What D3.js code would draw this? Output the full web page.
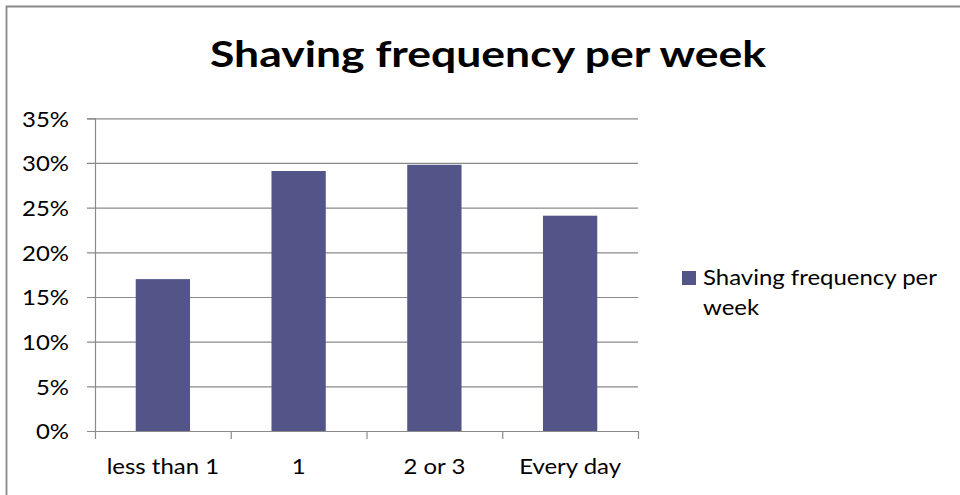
<!DOCTYPE html>
<html>
<head>
<meta charset="utf-8">
<script src="https://cdn.jsdelivr.net/npm/d3@7"></script>
<style>
  html, body { margin: 0; padding: 0; background: #fff; }
  svg { display: block; font-family: Lato, "Open Sans", sans-serif; }
</style>
</head>
<body>
<svg id="chart" width="960" height="495"></svg>
<script>
// Share of respondents by how often they shave each week
const categories = ["less than 1", "1", "2 or 3", "Every day"];
const values = [0.17, 0.291, 0.298, 0.241];
const yTicks = [0, 0.05, 0.10, 0.15, 0.20, 0.25, 0.30, 0.35];
const seriesName = "Shaving frequency per week";
const titleText = "Shaving frequency per week";

const svg = d3.select("#chart");
const plot = { left: 95, right: 638, top: 118.3, bottom: 431 };
const gridColor = "#8a8a8a";
const barColor = "#535588";
const labelSize = 21;
const textStretch = 1.14;  // labels are set a little wider than the font's natural width
const titleWidth = 556;    // title spans this many pixels

// outer frame: only its top and left edges fall inside the page
svg.append("path")
  .attr("d", "M6.5,1000V6.5H1000")
  .attr("fill", "none")
  .attr("stroke", gridColor).attr("stroke-width", 1.8);

const y = d3.scaleLinear().domain([0, 0.35]).range([plot.bottom, plot.top]);
const x = d3.scaleBand().domain(categories)
  .range([plot.left, plot.right])
  .paddingInner(0.6).paddingOuter(0.3);
const xEdges = d3.scaleLinear().domain([0, categories.length]).range([plot.left, plot.right]);

// title
svg.append("text")
  .attr("x", 210 + titleWidth / 2).attr("y", 66.5)
  .attr("text-anchor", "middle")
  .attr("font-size", 36).attr("font-weight", 700)
  .attr("fill", "#000")
  .attr("textLength", titleWidth)
  .attr("lengthAdjust", "spacingAndGlyphs")
  .text(titleText);

// horizontal gridlines with left tick marks and labels
const yAxis = svg.append("g")
  .attr("transform", `translate(${plot.left},0)`)
  .call(d3.axisLeft(y).tickValues(yTicks)
    .tickSize(8).tickPadding(18)
    .tickFormat(d3.format(".0%")));
yAxis.select(".domain").attr("stroke", gridColor).attr("stroke-width", 1.2);
yAxis.selectAll(".tick line").attr("stroke", gridColor).attr("stroke-width", 1.2)
  .attr("x2", plot.right - plot.left).attr("x1", -8);
yAxis.selectAll(".tick text")
  .attr("class", "stretch")
  .attr("font-size", labelSize).attr("font-family", "Lato, sans-serif")
  .attr("fill", "#000").attr("dy", "0.37em");

// category axis with ticks at the band edges
const xAxis = svg.append("g")
  .attr("transform", `translate(0,${plot.bottom})`)
  .call(d3.axisBottom(xEdges).tickValues(d3.range(categories.length + 1))
    .tickSize(8).tickFormat(""));
xAxis.select(".domain").remove();
xAxis.selectAll(".tick line").attr("stroke", gridColor).attr("stroke-width", 1.2);

// bars
svg.append("g").selectAll("rect")
  .data(categories)
  .join("rect")
  .attr("x", d => x(d))
  .attr("y", (d, i) => y(values[i]))
  .attr("width", x.bandwidth())
  .attr("height", (d, i) => y(0) - y(values[i]))
  .attr("fill", barColor);

// category labels
svg.append("g").selectAll("text")
  .data(categories)
  .join("text")
  .attr("class", "stretch")
  .attr("x", d => x(d) + x.bandwidth() / 2)
  .attr("y", 474)
  .attr("text-anchor", "middle")
  .attr("font-size", labelSize)
  .attr("fill", "#000")
  .text(d => d);

// legend
const legend = svg.append("g").attr("transform", "translate(682,271)");
legend.append("rect")
  .attr("width", 14).attr("height", 14)
  .attr("fill", barColor);
const words = seriesName.split(" ");
const lines = [words.slice(0, 3).join(" "), words.slice(3).join(" ")];
legend.selectAll("text")
  .data(lines)
  .join("text")
  .attr("class", "stretch")
  .attr("x", 21)
  .attr("y", (d, i) => 14 + i * 30)
  .attr("font-size", labelSize)
  .attr("fill", "#000")
  .text(d => d);

// widen every label by the common stretch factor
svg.selectAll("text.stretch").each(function () {
  const len = this.getComputedTextLength();
  d3.select(this)
    .attr("textLength", len * textStretch)
    .attr("lengthAdjust", "spacingAndGlyphs");
});
</script>
</body>
</html>
